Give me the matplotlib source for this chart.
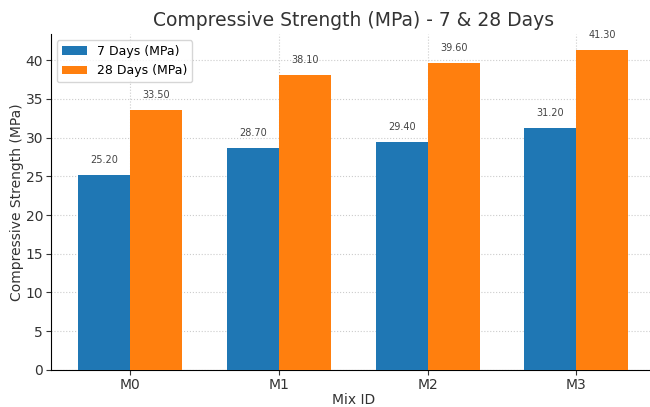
import matplotlib.pyplot as plt
import numpy as np

# data
mixes = ["M0", "M1", "M2", "M3"]
days7 = [25.2, 28.7, 29.4, 31.2]
days28 = [33.5, 38.1, 39.6, 41.3]

x = np.arange(len(mixes))
w = 0.35
txt = '#333333'

fig = plt.figure(figsize=(6.5, 4.07), dpi=100)
ax = fig.add_axes([0.078, 0.091, 0.931, 0.8255])

b1 = ax.bar(x - w/2, days7, w, label='7 Days (MPa)', color='#1f77b4', zorder=3)
b2 = ax.bar(x + w/2, days28, w, label='28 Days (MPa)', color='#ff7f0e', zorder=3)

for bars in (b1, b2):
    for b in bars:
        ax.text(b.get_x() + b.get_width()/2, b.get_height() + 1.3, f'{b.get_height():.2f}',
                ha='center', va='bottom', fontsize=7, color='#444444')

ax.set_title('Compressive Strength (MPa) - 7 & 28 Days', fontsize=13.5, color=txt)
ax.set_xlabel('Mix ID', fontsize=10, color=txt, labelpad=1)
ax.set_ylabel('Compressive Strength (MPa)', fontsize=10, color=txt, labelpad=1)
ax.set_xticks(x)
ax.set_xticklabels(mixes)
ax.tick_params(labelsize=10, colors=txt, pad=2)
ax.grid(True, linestyle=':', color='#cccccc', zorder=0)
ax.spines['top'].set_visible(False)
ax.spines['right'].set_visible(False)
ax.legend(loc='upper left', fontsize=9)

plt.savefig('out.png')
